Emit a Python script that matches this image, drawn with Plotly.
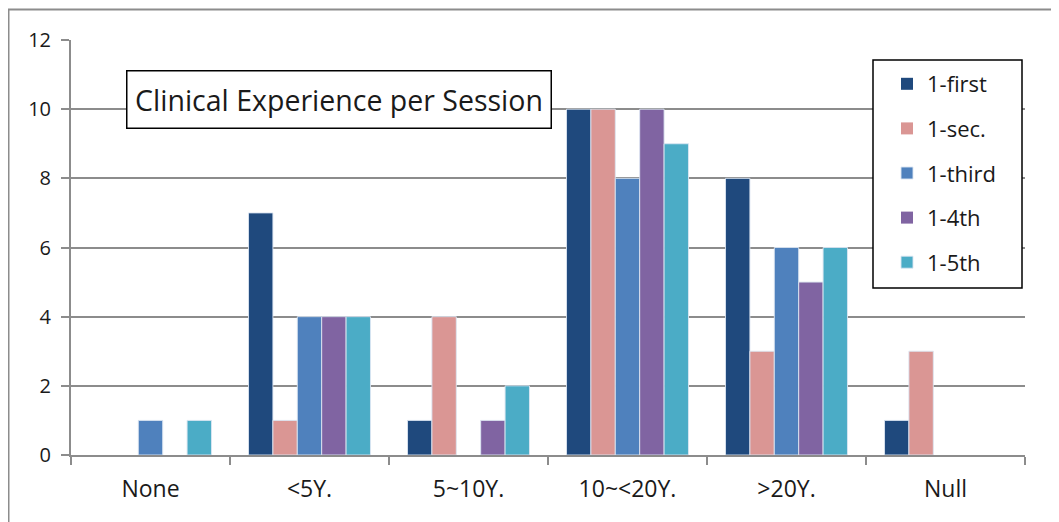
import plotly.graph_objects as go

categories = ["None", "<5Y.", "5~10Y.", "10~<20Y.", ">20Y.", "Null"]
series_names = ["1-first", "1-sec.", "1-third", "1-4th", "1-5th"]
first = [0, 7, 1, 10, 8, 1]
sec = [0, 1, 4, 10, 3, 3]
third = [1, 4, 0, 8, 6, 0]
fourth = [0, 4, 1, 10, 5, 0]
fifth = [1, 4, 2, 9, 6, 0]
colors = ["#1F497D", "#DA9694", "#4F81BD", "#8064A2", "#4BACC6"]
title_text = "Clinical Experience per Session"

FONT = "Open Sans, Noto Sans, sans-serif"

fig = go.Figure()
for i, (name, vals) in enumerate(zip(series_names, [first, sec, third, fourth, fifth])):
    fig.add_trace(go.Bar(
        x=categories, y=vals, name=name, legendgroup=name,
        marker=dict(color=colors[i],
                    line=dict(color="rgba(220,230,242,0.9)",
                              width=[1 if v > 0 else 0 for v in vals])),
    ))

OFF = 8  # page body margin
W, H = 1051, 514
L, R, T, B = 71, 1025, 40, 455  # page coords of plot area
pw, ph = R - L, B - T

def px(x):
    return (x - L) / pw

def py(y):
    return (B - y) / ph

fig.update_layout(
    width=W, height=H,
    margin=dict(l=L - OFF, r=W + OFF - R, t=T - OFF, b=H + OFF - B, pad=0),
    paper_bgcolor="white", plot_bgcolor="white",
    font=dict(family=FONT, size=20, color="#1a1a1a"),
    barmode="group", bargap=0.233, bargroupgap=0,
    showlegend=True,
    legend=dict(
        x=px(887), y=py(63), xanchor="left", yanchor="top",
        borderwidth=0, bgcolor="rgba(0,0,0,0)",
        font=dict(family=FONT, size=22, color="#1a1a1a"),
        tracegroupgap=13, itemwidth=30,
    ),
    xaxis=dict(
        range=[-0.5, 5.5], showgrid=False, showline=True,
        linecolor="#8c8c8c", linewidth=2, ticks="outside", tickson="boundaries",
        ticklen=8, tickwidth=2, tickcolor="#8c8c8c",
        tickfont=dict(family=FONT, size=23, color="#1a1a1a"),
        ticklabelstandoff=12, fixedrange=True,
    ),
    yaxis=dict(
        range=[0, 12], dtick=2, showgrid=True, gridcolor="#8c8c8c", gridwidth=2,
        showline=True, linecolor="#8c8c8c", linewidth=2, ticks="outside",
        ticklen=8, tickwidth=2, tickcolor="#8c8c8c", zeroline=False,
        tickfont=dict(family=FONT, size=20, color="#1a1a1a"),
        ticklabelstandoff=6, fixedrange=True,
    ),
    annotations=[dict(
        x=px(339), y=py(99.5), xref="paper", yref="paper",
        xanchor="center", yanchor="middle", showarrow=False,
        text=title_text, font=dict(family=FONT, size=28.5, color="#1a1a1a"),
        bordercolor="black", borderwidth=1.5, bgcolor="white",
        width=421, height=54, borderpad=1,
    )],
    shapes=[
        dict(
            type="path", xref="paper", yref="paper",
            path=f"M {px(8.5)},{py(600)} L {px(8.5)},{py(9.5)} L {px(1100)},{py(9.5)}",
            line=dict(color="#8c8c8c", width=2),
        ),
        dict(
            type="rect", xref="paper", yref="paper", layer="above",
            x0=px(873), x1=px(1022), y0=py(288), y1=py(60),
            line=dict(color="black", width=1.5), fillcolor="white",
        ),
    ],
)

fig.write_html("out.html")
